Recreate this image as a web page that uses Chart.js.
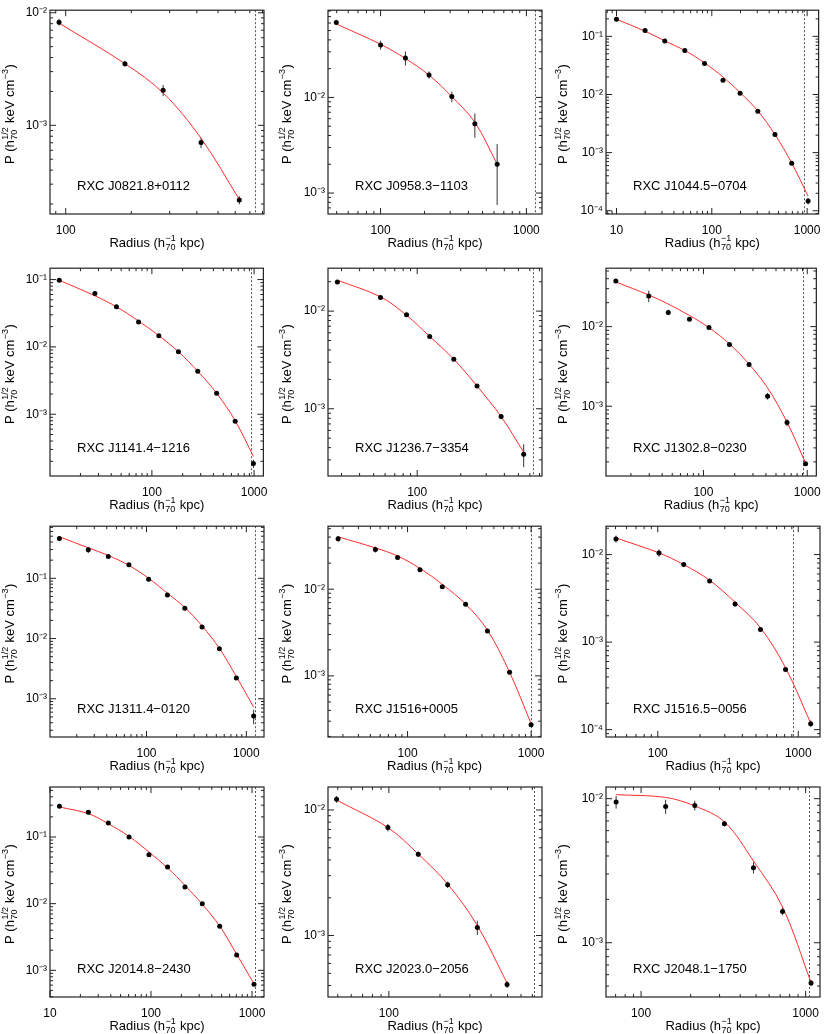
<!DOCTYPE html>
<html>
<head>
<meta charset="utf-8">
<script src="https://cdn.jsdelivr.net/npm/chart.js@4.4.1/dist/chart.umd.min.js"></script>
<style>
  body { margin: 0; background: #fff; }
  #grid { position: relative; width: 830px; height: 1034px; }
  #grid canvas { position: absolute; }
</style>
</head>
<body>
<div id="grid"></div>
<script>
// cluster names, one per panel (row by row)
const clusterNames = [
    'RXC J0821.8+0112', 'RXC J0958.3\u22121103', 'RXC J1044.5\u22120704',
    'RXC J1141.4\u22121216', 'RXC J1236.7\u22123354', 'RXC J1302.8\u22120230',
    'RXC J1311.4\u22120120', 'RXC J1516+0005', 'RXC J1516.5\u22120056',
    'RXC J2014.8\u22122430', 'RXC J2023.0\u22122056', 'RXC J2048.1\u22121750'
];

// axis ranges
const radiusMin = [84.7, 43.6, 7.76, 10.07, 24.2, 11.5, 10.8, 22.7, 42.8, 10, 43.8, 61.2];
const radiusMax = [813, 1279, 1321, 1233, 728, 1224, 1502, 1204, 1428, 1315, 798, 1223];
const pressureMin = [1.63e-4, 6.04e-4, 8.8e-5, 1.21e-4, 2.05e-4, 1.33e-4, 2.32e-4, 1.97e-4, 8.24e-5, 3.98e-4, 3.24e-4, 4.2e-4];
const pressureMax = [0.01054, 0.0817, 0.282, 0.1475, 0.0275, 0.0542, 0.733, 0.0534, 0.0211, 0.562, 0.01524, 0.01205];

// R500 (dotted line)
const r500 = [736, 1153, 938, 942, 631, 917, 1211, 1000, 921, 1062, 720, 1052];

// measured profiles
const radius = [
    [93.2, 187, 280, 418, 626],
    [49.7, 100, 148, 215, 308, 443, 630],
    [10, 19.95, 32.1, 52.1, 83.9, 131, 198, 304, 460, 689, 1024],
    [12.4, 27.7, 45.0, 74.1, 117, 182, 281, 430, 653, 985],
    [28.1, 55.8, 84.4, 122, 179, 259, 380, 544],
    [14.3, 29.7, 45.8, 73.3, 113, 178, 275, 415, 639, 964],
    [13.4, 26.1, 41.4, 66.6, 105, 162, 242, 360, 537, 794, 1183],
    [27.4, 54.9, 83.1, 126, 191, 295, 443, 670, 1000],
    [50.4, 102, 153, 234, 355, 538, 812, 1225],
    [12.4, 24.0, 37.8, 60.6, 95.5, 146, 217, 322, 479, 705, 1047],
    [49.2, 98.7, 149, 222, 332, 497],
    [70.5, 141, 212, 321, 482, 724, 1079]
];
const pressure = [
    [8.25e-3, 3.53e-3, 2.05e-3, 7.03e-4, 2.17e-4],
    [0.0609, 0.0354, 0.0259, 0.0172, 0.0102, 5.3e-3, 2.0e-3],
    [0.197, 0.126, 0.0836, 0.057, 0.0341, 0.0176, 0.0105, 5.14e-3, 2.05e-3, 6.56e-4, 1.47e-4],
    [0.0978, 0.0621, 0.0394, 0.0234, 0.01466, 8.47e-3, 4.35e-3, 2.05e-3, 7.84e-4, 1.85e-4],
    [0.0199, 0.0138, 9.2e-3, 5.5e-3, 3.22e-3, 1.71e-3, 8.32e-4, 3.43e-4],
    [0.0375, 0.0243, 0.0151, 0.0124, 9.72e-3, 5.95e-3, 3.35e-3, 1.34e-3, 6.24e-4, 1.90e-4],
    [0.458, 0.298, 0.231, 0.168, 0.0963, 0.053, 0.0319, 0.0156, 6.79e-3, 2.22e-3, 5.16e-4],
    [0.0382, 0.0288, 0.0233, 0.0168, 0.0107, 6.73e-3, 3.29e-3, 1.10e-3, 2.73e-4],
    [0.0151, 0.01045, 7.68e-3, 5.0e-3, 2.73e-3, 1.39e-3, 4.87e-4, 1.17e-4],
    [0.288, 0.234, 0.162, 0.1, 0.0543, 0.0355, 0.0178, 0.01, 4.57e-3, 1.70e-3, 6.17e-4],
    [0.01216, 7.24e-3, 4.45e-3, 2.54e-3, 1.16e-3, 4.08e-4],
    [9.48e-3, 8.84e-3, 8.98e-3, 6.7e-3, 3.32e-3, 1.65e-3, 5.25e-4]
];
const pressureErr = [
    [5.5e-4, 2.1e-4, 2.3e-4, 7.5e-5, 1.8e-5],
    [3.8e-3, 3.8e-3, 4.4e-3, 1.5e-3, 1.3e-3, 1.5e-3, 1.25e-3],
    [5e-3, 4e-3, 2.5e-3, 1.7e-3, 1e-3, 6e-4, 3e-4, 1.5e-4, 6e-5, 3e-5, 1.9e-5],
    [3e-3, 2e-3, 1.2e-3, 7e-4, 4e-4, 2.5e-4, 1.3e-4, 6e-5, 3e-5, 2.6e-5],
    [7e-4, 5e-4, 3e-4, 1.6e-4, 1e-4, 6e-5, 5e-5, 9e-5],
    [1.2e-3, 4e-3, 1.2e-3, 6e-4, 3.5e-4, 2e-4, 1.2e-4, 1.3e-4, 6.5e-5, 1e-5],
    [0.042, 0.035, 0.01, 8e-3, 4e-3, 2.5e-3, 1.2e-3, 6e-4, 2.5e-4, 1e-4, 1.4e-4],
    [3e-3, 2.3e-3, 1.2e-3, 6e-4, 4e-4, 2.5e-4, 1.2e-4, 5e-5, 1e-5],
    [1.4e-3, 1e-3, 4e-4, 2e-4, 1.9e-4, 7e-5, 2e-5, 1e-5],
    [1e-2, 8e-3, 5e-3, 3e-3, 2e-3, 1e-3, 6e-4, 3e-4, 1.5e-4, 6e-5, 2.5e-5],
    [7.5e-4, 5e-4, 2.2e-4, 1.5e-4, 1.5e-4, 2.5e-5],
    [9.5e-4, 1e-3, 7e-4, 3e-4, 3e-4, 1e-4, 2.5e-5]
];

const fitPressure = [
    [8.09e-3, 3.53e-3, 1.94e-3, 7.67e-4, 2.2e-4],
    [0.0586, 0.036, 0.0255, 0.0171, 0.0102, 5.5e-3, 2.01e-3],
    [0.197, 0.1227, 0.0836, 0.057, 0.035, 0.02, 0.0108, 5.21e-3, 2.05e-3, 6.64e-4, 1.78e-4],
    [0.0978, 0.0574, 0.0394, 0.0242, 0.01466, 8.47e-3, 4.35e-3, 2.05e-3, 8.02e-4, 2.36e-4],
    [0.0207, 0.0140, 9.06e-3, 5.5e-3, 3.22e-3, 1.71e-3, 8.32e-4, 3.59e-4],
    [0.0364, 0.025, 0.0192, 0.0138, 9.72e-3, 6.07e-3, 3.38e-3, 1.7e-3, 6.3e-4, 1.94e-4],
    [0.489, 0.321, 0.24, 0.164, 0.1, 0.0565, 0.0327, 0.0162, 6.88e-3, 2.34e-3, 7.28e-4],
    [0.0403, 0.03, 0.0242, 0.0174, 0.0114, 6.73e-3, 3.38e-3, 1.10e-3, 2.81e-4],
    [0.0155, 0.01045, 7.68e-3, 5.09e-3, 2.85e-3, 1.46e-3, 5.09e-4, 1.19e-4],
    [0.282, 0.224, 0.158, 0.102, 0.0596, 0.0343, 0.0188, 9.77e-3, 4.62e-3, 1.74e-3, 6.31e-4],
    [0.012, 7.24e-3, 4.45e-3, 2.57e-3, 1.2e-3, 4.18e-4],
    [0.01066, 0.0102, 8.9e-3, 6.9e-3, 3.69e-3, 1.77e-3, 5.3e-4]
];

// page layout (pixels)
const colX = [0, 277, 553];
const rowY = [0, 258, 516, 774];
const areaLeft = [50, 51, 53];
const areaRight = [264, 265, 267];
const areaTop = [5, 5, 10, 13];
const areaBottom = [214, 218, 221, 223];

const FONT = '"Liberation Sans", Arial, Helvetica, sans-serif';
Chart.defaults.font.family = FONT;
Chart.defaults.color = '#000';

const SUP = { '-': '\u207B', '0': '\u2070', '1': '\u00B9', '2': '\u00B2', '3': '\u00B3', '4': '\u2074', '5': '\u2075' };
const toSup = (n) => String(n).split('').map(c => SUP[c]).join('');

const decadeTicks = (min, max) => {
    const out = [];
    for (let e = Math.floor(Math.log10(min)); e <= Math.ceil(Math.log10(max)); e++) {
        const v = Math.pow(10, e);
        if (v >= min * 0.9999 && v <= max * 1.0001) out.push({ value: v, major: true });
    }
    return out;
};

// text with stacked super/subscripts, centred on (x, y) baseline
const drawRich = (ctx, segs, x, y) => {
    const big = '13px ' + FONT, small = '9px ' + FONT;
    const widths = segs.map(s => {
        if (s.t) { ctx.font = big; return ctx.measureText(s.t).width; }
        ctx.font = small;
        return Math.max(ctx.measureText(s.sup || '').width, ctx.measureText(s.sub || '').width) + 1;
    });
    let cx = x - widths.reduce((a, b) => a + b, 0) / 2;
    ctx.textAlign = 'left';
    ctx.textBaseline = 'alphabetic';
    segs.forEach((s, k) => {
        if (s.t) {
            ctx.font = big;
            ctx.fillText(s.t, cx, y);
        } else {
            ctx.font = small;
            if (s.sup) ctx.fillText(s.sup, cx + 0.5, y - 6);
            if (s.sub) ctx.fillText(s.sub, cx + 0.5, y + 3);
        }
        cx += widths[k];
    });
};

const xTitle = [{ t: 'Radius (h' }, { sup: '\u22121', sub: '70' }, { t: ' kpc)' }];
const yTitle = [{ t: 'P (h' }, { sup: '1/2', sub: '70' }, { t: ' keV cm' }, { sup: '\u22123' }, { t: ')' }];

const frameTicks = (ctx, scale, a, horizontal) => {
    const lo = Math.floor(Math.log10(scale.min));
    const hi = Math.ceil(Math.log10(scale.max));
    ctx.beginPath();
    for (let e = lo; e <= hi; e++) {
        for (let m = 1; m <= 9; m++) {
            const v = m * Math.pow(10, e);
            if (v < scale.min || v > scale.max) continue;
            const p = scale.getPixelForValue(v);
            const len = m === 1 ? 6 : 3;
            if (horizontal) {
                ctx.moveTo(p, a.bottom); ctx.lineTo(p, a.bottom - len);
                ctx.moveTo(p, a.top); ctx.lineTo(p, a.top + len);
            } else {
                ctx.moveTo(a.left, p); ctx.lineTo(a.left + len, p);
                ctx.moveTo(a.right, p); ctx.lineTo(a.right - len, p);
            }
        }
    }
    ctx.stroke();
};

const idlPanel = (i) => ({
    id: 'idlPanel',
    beforeDatasetsDraw(chart) {
        const { ctx, chartArea: a, scales: { x, y } } = chart;
        ctx.save();
        // R500 marker
        const rx = Math.round(x.getPixelForValue(r500[i])) + 0.5;
        ctx.setLineDash([2, 2]);
        ctx.strokeStyle = '#555';
        ctx.lineWidth = 1;
        ctx.beginPath();
        ctx.moveTo(rx, a.top);
        ctx.lineTo(rx, a.bottom);
        ctx.stroke();
        ctx.setLineDash([]);
        // error bars
        ctx.strokeStyle = '#333';
        radius[i].forEach((r, k) => {
            const p = pressure[i][k], e = pressureErr[i][k];
            const px = x.getPixelForValue(r);
            ctx.beginPath();
            ctx.moveTo(px, y.getPixelForValue(p + e));
            ctx.lineTo(px, y.getPixelForValue(Math.max(p - e, p * 0.05)));
            ctx.stroke();
        });
        ctx.restore();
    },
    afterDraw(chart) {
        const { ctx, chartArea: a, scales: { x, y } } = chart;
        ctx.save();
        ctx.strokeStyle = '#222';
        ctx.lineWidth = 1.2;
        ctx.strokeRect(a.left, a.top, a.right - a.left, a.bottom - a.top);
        ctx.lineWidth = 1;
        frameTicks(ctx, x, a, true);
        frameTicks(ctx, y, a, false);

        ctx.fillStyle = '#000';
        ctx.font = '13px ' + FONT;
        ctx.textAlign = 'left';
        ctx.textBaseline = 'alphabetic';
        ctx.fillText(clusterNames[i], a.left + 27, a.bottom - 24);

        drawRich(ctx, xTitle, (a.left + a.right) / 2, a.bottom + 33);
        ctx.translate(13.5, (a.top + a.bottom) / 2 + 2);
        ctx.rotate(-Math.PI / 2);
        drawRich(ctx, yTitle, 0, 0);
        ctx.restore();
    }
});

const grid = document.getElementById('grid');

const makePanel = (i) => {
    const col = i % 3, row = Math.floor(i / 3);
    const w = 277, h = row === 3 ? 260 : 258;
    const cv = document.createElement('canvas');
    cv.width = w; cv.height = h;
    cv.style.left = colX[col] + 'px';
    cv.style.top = rowY[row] + 'px';
    cv.style.width = w + 'px';
    cv.style.height = h + 'px';
    grid.appendChild(cv);

    new Chart(cv, {
        data: {
            datasets: [
                {
                    type: 'line',
                    data: radius[i].map((r, k) => ({ x: r, y: fitPressure[i][k] })),
                    borderColor: 'rgb(255, 45, 45)',
                    borderWidth: 1,
                    pointRadius: 0,
                    fill: false,
                    tension: 0.35,
                    order: 2
                },
                {
                    type: 'scatter',
                    data: radius[i].map((r, k) => ({ x: r, y: pressure[i][k] })),
                    backgroundColor: '#000',
                    borderWidth: 0,
                    pointRadius: 2.5,
                    order: 1
                }
            ]
        },
        options: {
            responsive: false,
            animation: false,
            devicePixelRatio: 1,
            layout: {
                autoPadding: false,
                padding: { left: 0, top: areaTop[row], right: w - areaRight[col], bottom: 0 }
            },
            scales: {
                x: {
                    type: 'logarithmic',
                    min: radiusMin[i],
                    max: radiusMax[i],
                    bounds: 'data',
                    afterBuildTicks: (s) => { s.ticks = decadeTicks(s.min, s.max); },
                    afterFit: (s) => { s.height = h - areaBottom[row]; },
                    grid: { display: false, drawTicks: false },
                    border: { display: false },
                    ticks: {
                        autoSkip: false, maxRotation: 0, padding: 9,
                        font: { size: 12 },
                        callback: (v) => String(v)
                    }
                },
                y: {
                    type: 'logarithmic',
                    min: pressureMin[i],
                    max: pressureMax[i],
                    bounds: 'data',
                    afterBuildTicks: (s) => { s.ticks = decadeTicks(s.min, s.max); },
                    afterFit: (s) => { s.width = areaLeft[col]; },
                    grid: { display: false, drawTicks: false },
                    border: { display: false },
                    ticks: {
                        autoSkip: false, padding: 3,
                        font: { size: 12 },
                        callback: (v) => '10' + toSup(Math.round(Math.log10(v)))
                    }
                }
            },
            plugins: { legend: { display: false }, tooltip: { enabled: false } }
        },
        plugins: [idlPanel(i)]
    });
};

clusterNames.forEach((_, i) => makePanel(i));
</script>
</body>
</html>
